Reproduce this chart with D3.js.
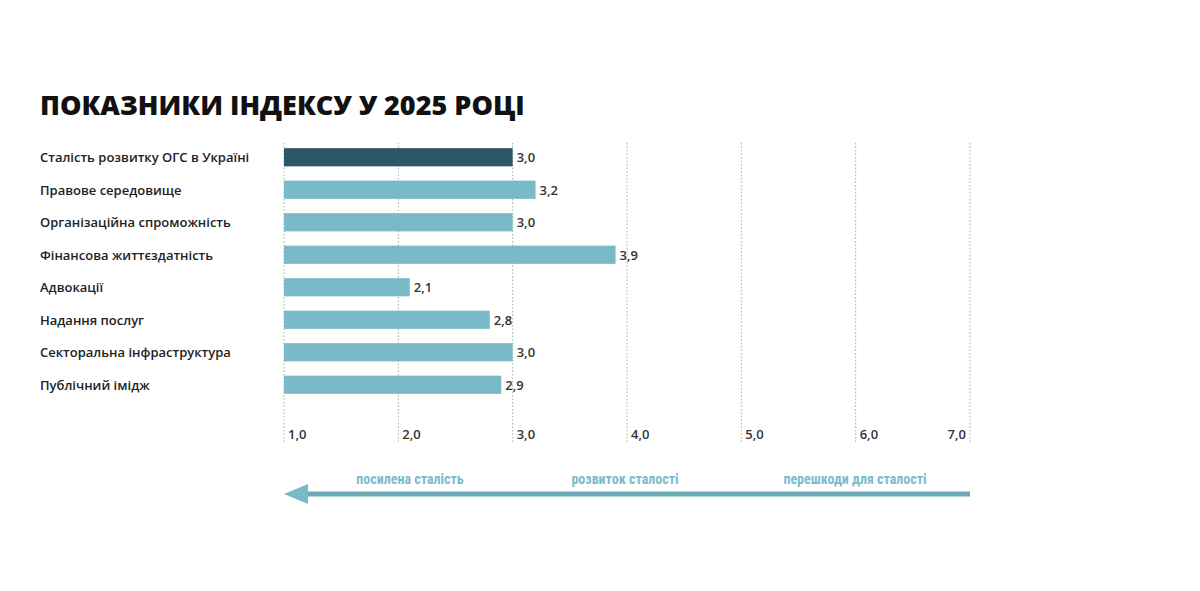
<!DOCTYPE html><html><head><meta charset="utf-8"><script src="https://cdn.jsdelivr.net/npm/d3@7"></script>
<style>body{margin:0;background:#fff;font-family:"Open Sans",sans-serif}</style></head><body><svg id="c" width="1200" height="591"></svg>
<script>
const categories=["Сталість розвитку ОГС в Україні","Правове середовище","Організаційна спроможність","Фінансова життєздатність","Адвокації","Надання послуг","Секторальна інфраструктура","Публічний імідж"];
const values=[3.0,3.2,3.0,3.9,2.1,2.8,3.0,2.9];
const ticks=[1,2,3,4,5,6,7];
const scaleLabels=[{t:"посилена сталість",x:410},{t:"розвиток сталості",x:625},{t:"перешкоди для сталості",x:855}];
const svg=d3.select("#c");
const x=d3.scaleLinear().domain([1,7]).range([284,970]);
const y=d3.scaleBand().domain(categories).range([141,401]).paddingInner(0.44).paddingOuter(0.22);
const fmt=v=>v.toFixed(1).replace(".",",");
svg.append("text").attr("x",40).attr("y",115).text("ПОКАЗНИКИ ІНДЕКСУ У 2025 РОЦІ").attr("font-size",27).attr("font-weight",800).attr("fill","#111");
svg.selectAll(".g").data(ticks).join("line").attr("x1",d=>x(d)).attr("x2",d=>x(d)).attr("y1",143).attr("y2",442).attr("stroke","#aaa").attr("stroke-dasharray","1.5,2");
svg.selectAll(".tl").data(ticks).join("text").attr("x",d=>d===7?x(d)-4:x(d)+4).attr("text-anchor",d=>d===7?"end":"start").attr("y",439).text(d=>fmt(d)).attr("font-size",13).attr("font-weight",600).attr("fill","#333");
svg.selectAll(".b").data(values).join("rect").attr("x",x(1)).attr("y",(d,i)=>y(categories[i])).attr("height",y.bandwidth()).attr("width",d=>x(d)-x(1)).attr("fill",(d,i)=>i===0?"#2d5669":"#78bac8");
svg.selectAll(".v").data(values).join("text").attr("x",d=>x(d)+4).attr("y",(d,i)=>y(categories[i])+y.bandwidth()/2+5).text(d=>fmt(d)).attr("font-size",13).attr("font-weight",600).attr("fill","#333");
svg.selectAll(".c").data(categories).join("text").attr("x",40).attr("y",c=>y(c)+y.bandwidth()/2+5).text(c=>c).attr("font-size",13).attr("font-weight",600).attr("fill","#222");
svg.append("line").attr("x1",300).attr("x2",970).attr("y1",494).attr("y2",494).attr("stroke","#6aaab6").attr("stroke-width",5);
svg.append("path").attr("d","M284,494 L308,484 L308,504 Z").attr("fill","#78bac8");
svg.selectAll(".s").data(scaleLabels).join("text").attr("x",d=>d.x).attr("y",484).attr("text-anchor","middle").text(d=>d.t).attr("font-size",14).attr("font-weight",700).attr("fill","#7bbccb").attr("font-family","'Liberation Sans Narrow','Roboto Condensed',Roboto,sans-serif");
</script></body></html>
